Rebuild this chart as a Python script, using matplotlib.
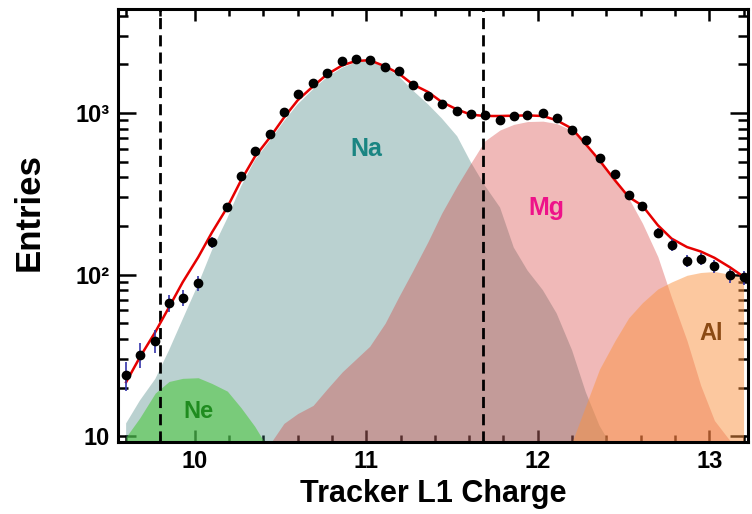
import numpy as np
import matplotlib
matplotlib.use('Agg')
import matplotlib.pyplot as plt
from matplotlib.ticker import FixedLocator, FixedFormatter, MultipleLocator, LogLocator, NullFormatter

plt.rcParams['font.family'] = ['Liberation Sans', 'DejaVu Sans']
plt.rcParams['font.weight'] = 'bold'

nan = np.nan

# bin centres of the tracker L1 charge histogram
charge = [9.60, 9.68, 9.77, 9.85, 9.93, 10.02, 10.10, 10.19, 10.27, 10.35, 10.44,
          10.52, 10.60, 10.69, 10.77, 10.86, 10.94, 11.02, 11.11, 11.19, 11.27, 11.36,
          11.44, 11.53, 11.61, 11.69, 11.78, 11.86, 11.94, 12.03, 12.11, 12.20, 12.28,
          12.36, 12.45, 12.53, 12.61, 12.70, 12.78, 12.87, 12.95, 13.03, 13.12, 13.20]

counts = [24, 32, 39, 67, 72, 89, 159, 262, 406, 582, 745, 1014, 1318, 1542, 1779,
          2090, 2159, 2120, 1928, 1811, 1485, 1268, 1132, 1029, 982, 978, 901, 958,
          968, 1006, 937, 789, 677, 526, 421, 309, 264, 181, 153, 122, 125, 113, 99, 96]

fit = [21.6, 30.8, 44.1, 62.8, 89.8, 128, 182, 261, 383, 535, 710, 936, 1198, 1463,
       1729, 1972, 2099, 2120, 1945, 1754, 1506, 1349, 1170, 1050, 977, 958, 958, 962,
       966, 958, 901, 800, 640, 509, 383, 302, 267, 202, 167, 148, 139, 127, 111, 97]

# template components
ne = [9.9, 13, 18.5, 21.8, 22.8, 23, 21.2, 19, 15, 11.5, 8] + [nan] * 33
na = [12, 16.6, 22.6, 34, 53, 87, 141, 223, 351, 510, 678, 889, 1132, 1402, 1663,
      1906, 2061, 2091, 1918, 1687, 1383, 1132, 927, 718, 495, 357, 260, 147, 106,
      80, 57.5, 34, 18.7, 11.6, 8] + [nan] * 9
mg = [nan] * 10 + [9, 12, 13.8, 15.5, 19.5, 25, 30, 36, 50, 73, 105, 160, 240, 355,
                   490, 670, 785, 850, 885, 890, 860, 780, 630, 500, 382, 297, 208,
                   129, 72, 39, 20.6, 12.5, 9.4, 6]
al = [nan] * 31 + [9.2, 15.5, 26, 39, 54, 67, 81.5, 90, 99, 103, 104.5, 100.5, 95]

cuts = [9.8, 11.68]

fig = plt.figure(figsize=(7.52, 5.14), dpi=100)
ax = fig.add_axes([0.157, 0.140, 0.838, 0.8425])

ax.fill_between(charge, 1, na, color='#3a7c79', alpha=0.35, lw=0, zorder=2)
ax.fill_between(charge, 1, ne, color='#4fc741', alpha=0.6, lw=0, zorder=2.1)
ax.fill_between(charge, 1, mg, color='#d43734', alpha=0.35, lw=0, zorder=2.2)
ax.fill_between(charge, 1, al, color='#fb9341', alpha=0.5, lw=0, zorder=2.3)

for c in cuts:
    ax.axvline(c, color='black', lw=2.0, ls=(0, (4, 2.2)), zorder=3)

ax.plot(charge, fit, color='#e60000', lw=1.8, zorder=4)
ax.errorbar(charge, counts, yerr=np.sqrt(counts), fmt='o', color='black', ms=6,
            ecolor='#3333aa', elinewidth=1.2, capsize=0, zorder=5)

ax.text(11.0, 600, 'Na', color='#1a8582', fontsize=18, fontweight='bold', ha='center', va='center', zorder=6)
ax.text(12.05, 260, 'Mg', color='#ee1289', fontsize=18, fontweight='bold', ha='center', va='center', zorder=6)
ax.text(13.01, 43, 'Al', color='#8b4a14', fontsize=17, fontweight='bold', ha='center', va='center', zorder=6)
ax.text(10.02, 14.3, 'Ne', color='#1f8c1f', fontsize=17, fontweight='bold', ha='center', va='center', zorder=6)

ax.set_yscale('log')
ax.set_xlim(9.553, 13.227)
ax.set_ylim(9.2, 4400)

ax.xaxis.set_major_locator(FixedLocator([10, 11, 12, 13]))
ax.xaxis.set_minor_locator(MultipleLocator(0.2))
ax.yaxis.set_major_locator(FixedLocator([10, 100, 1000]))
ax.yaxis.set_major_formatter(FixedFormatter(['10', '10²', '10³']))
ax.yaxis.set_minor_locator(LogLocator(base=10, subs=np.arange(2, 10)))
ax.yaxis.set_minor_formatter(NullFormatter())

ax.tick_params(axis='both', which='both', direction='in', top=True, right=True,
               width=1.8, labelsize=17)
ax.tick_params(axis='x', which='major', length=8.6, pad=6)
ax.tick_params(axis='x', which='minor', length=5)
ax.tick_params(axis='y', which='major', length=13, pad=6)
ax.tick_params(axis='y', which='minor', length=7.2)

for s in ax.spines.values():
    s.set_linewidth(2.2)

ax.set_xlabel('Tracker L1 Charge', fontsize=22, fontweight='bold')
ax.set_ylabel('Entries', fontsize=25, fontweight='bold')
ax.xaxis.set_label_coords(0.5, -0.085)
ax.yaxis.set_label_coords(-0.115, 0.53)

fig.savefig('out.png', dpi=100)
